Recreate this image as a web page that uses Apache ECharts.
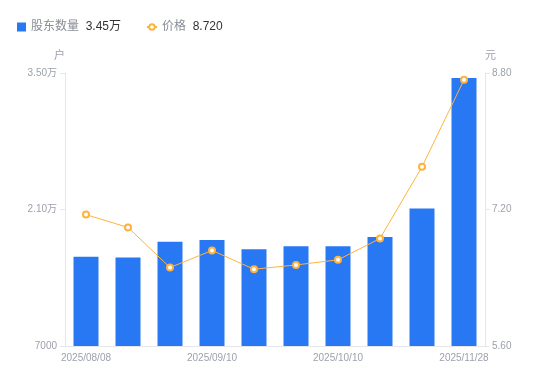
<!DOCTYPE html>
<html>
<head>
<meta charset="utf-8">
<script src="https://cdn.jsdelivr.net/npm/echarts@6/dist/echarts.min.js"></script>
<style>
html,body{margin:0;padding:0;background:#fff;}
#chart{width:550px;height:381px;}
</style>
</head>
<body>
<div id="chart"></div>
<script>
var categories = ['2025/08/08','2025/08/20','2025/08/29','2025/09/10','2025/09/19','2025/09/30','2025/10/10','2025/10/20','2025/10/31','2025/11/28'];
var holders = [16150, 16080, 17700, 17880, 16920, 17230, 17230, 18180, 21100, 34500];
var prices = [7.14, 6.99, 6.52, 6.72, 6.50, 6.55, 6.61, 6.86, 7.70, 8.72];
var leftTicks = [7000, 21000, 35000];
var rightTicks = [5.6, 7.2, 8.8];

function fmtLeft(v){
  if (v >= 10000) return (v/10000).toFixed(2) + '万';
  return String(Math.round(v));
}
var lastHolder = holders[holders.length-1];
var lastPrice = prices[prices.length-1];

var chart = echarts.init(document.getElementById('chart'), null, {renderer:'canvas'});
var axisColor = '#9da1ac';
var lineColor = '#e6e7eb';
var legendRich = {
  n:{color:'#8a8d96', fontSize:12},
  v:{color:'#333', fontSize:12}
};
function legendFmt(name){
  if (name === '股东数量') return '{n|' + name + '}  {v|' + fmtLeft(lastHolder) + '}';
  return '{n|' + name + '}  {v|' + lastPrice.toFixed(3) + '}';
}
chart.setOption({
  animation:false,
  textStyle:{fontFamily:'"Liberation Sans", "Noto Sans CJK SC", sans-serif'},
  legend:[{
    left:12, top:16,
    itemWidth:9, itemHeight:9,
    data:[{name:'股东数量', icon:'rect'}],
    formatter:legendFmt,
    textStyle:{rich:legendRich}
  },{
    left:141, top:16,
    itemWidth:10, itemHeight:7,
    lineStyle:{width:2},
    data:[{name:'价格'}],
    formatter:legendFmt,
    textStyle:{rich:legendRich}
  }],
  grid:{left:65, right:65, top:73, bottom:35},
  xAxis:{
    type:'category',
    data:categories,
    axisLine:{lineStyle:{color:lineColor}},
    axisTick:{show:false},
    axisLabel:{color:axisColor, fontSize:10, interval:2, margin:7}
  },
  yAxis:[{
    type:'value',
    name:'户',
    nameGap:12,
    nameTextStyle:{color:axisColor, fontSize:11, align:'right'},
    min:7000, max:35000,
    axisLine:{show:true, lineStyle:{color:lineColor}},
    axisTick:{show:true, length:5, lineStyle:{color:lineColor}, customValues:leftTicks},
    splitLine:{show:false},
    axisLabel:{color:axisColor, fontSize:10, margin:8, customValues:leftTicks, formatter:fmtLeft}
  },{
    type:'value',
    name:'元',
    nameGap:12,
    nameTextStyle:{color:axisColor, fontSize:11, align:'left'},
    min:5.6, max:8.8,
    axisLine:{show:true, lineStyle:{color:lineColor}},
    axisTick:{show:true, length:5, lineStyle:{color:lineColor}, customValues:rightTicks},
    splitLine:{show:false},
    axisLabel:{color:axisColor, fontSize:10, margin:7, customValues:rightTicks, formatter:function(v){return v.toFixed(2);}}
  }],
  series:[{
    name:'股东数量',
    type:'bar',
    yAxisIndex:0,
    barWidth:25,
    itemStyle:{color:'#2878f4'},
    data:holders
  },{
    name:'价格',
    type:'line',
    yAxisIndex:1,
    symbol:'emptyCircle',
    symbolSize:6,
    lineStyle:{color:'#ffb33e', width:1},
    itemStyle:{color:'#ffb33e', borderWidth:2},
    data:prices
  }]
});
</script>
</body>
</html>
